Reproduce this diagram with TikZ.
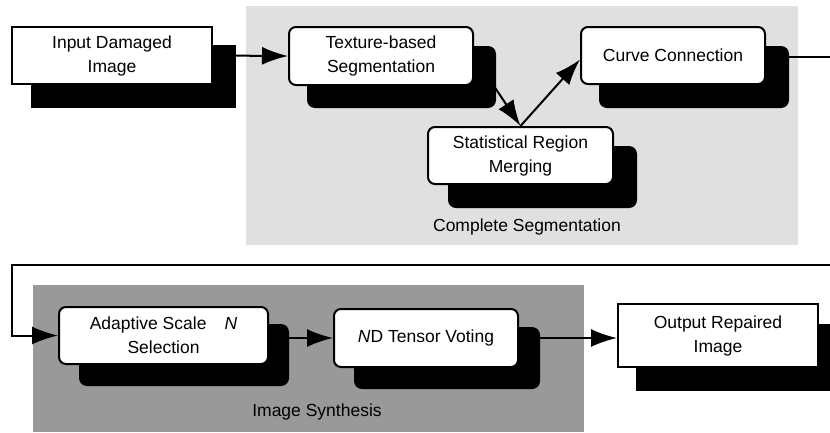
\documentclass[tikz,border=0pt]{standalone}
\usepackage{fontspec}
\setmainfont{Liberation Sans}
\usetikzlibrary{arrows.meta,calc}
\pgfdeclarelayer{bgregion}
\pgfdeclarelayer{bgconn}
\pgfdeclarelayer{bgshadow}
\pgfsetlayers{bgregion,bgconn,bgshadow,main}
\definecolor{lightregion}{gray}{0.88}
\definecolor{darkregion}{gray}{0.60}
\begin{document}
\begin{tikzpicture}[x=1pt,y=-1pt,
  every node/.style={font=\fontsize{17.5}{24}\selectfont},
  boxsharp/.style={draw=black,line width=2pt,fill=white,inner sep=0pt,align=center},
  boxround/.style={boxsharp,rounded corners=7pt},
  conn/.style={line width=2pt,-{Latex[length=26pt,width=18pt]}},
  plainline/.style={line width=2pt},
  shadowsharp/.style={fill=black},
  shadowround/.style={fill=black,rounded corners=8pt},
  regionlabel/.style={inner sep=0pt}
]
\useasboundingbox (0,0) rectangle (830,432);

% boxes
\node[boxsharp,minimum width=200pt,minimum height=57pt] (in) at (112,55.5) {Input Damaged\\Image\hspace*{0pt}};
\node[boxround,minimum width=184pt,minimum height=58pt] (tex) at (381,56) {Texture-based\\Segmentation};
\node[boxround,minimum width=184pt,minimum height=57pt] (cur) at (673,55.5) {Curve Connection};
\node[boxround,minimum width=185pt,minimum height=57pt] (stat) at (520.5,155.5) {Statistical Region\\Merging};
\node[boxround,minimum width=209pt,minimum height=57pt] (ada) at (163.5,335.5) {Adaptive Scale\hspace{18pt}\textit{N}\\Selection};
\node[boxround,minimum width=184pt,minimum height=58pt] (ten) at (426,338) {\textit{N}D Tensor Voting};
\node[boxsharp,minimum width=200pt,minimum height=63pt] (out) at (718,335.5) {Output Repaired\\Image};

% region labels
\node[regionlabel] (lab1) at (527,227) {Complete Segmentation};
\node[regionlabel] (lab2) at (317,412) {Image Synthesis};

% edge coordinates
\coordinate (e1) at (831,57);
\coordinate (e2) at (831,265);
\coordinate (lc) at (12,265);

\begin{pgfonlayer}{bgregion}
  \fill[lightregion] (246,6) rectangle (798,245);
  \fill[darkregion] (33,285) rectangle (584,432);
\end{pgfonlayer}

\begin{pgfonlayer}{bgshadow}
  \fill[shadowsharp] ($(in.north west)+(20,19)$) rectangle ($(in.south east)+(23,23)$);
  \fill[shadowround] ($(tex.north west)+(19,20)$) rectangle ($(tex.south east)+(22,22)$);
  \fill[shadowround] ($(cur.north west)+(19,20)$) rectangle ($(cur.south east)+(23,23)$);
  \fill[shadowround] ($(stat.north west)+(21,20)$) rectangle ($(stat.south east)+(23,23)$);
  \fill[shadowround] ($(ada.north west)+(21,18)$) rectangle ($(ada.south east)+(20,21)$);
  \fill[shadowround] ($(ten.north west)+(21,19)$) rectangle ($(ten.south east)+(21,21)$);
  \fill[shadowsharp] ($(out.north west)+(19,21)$) rectangle ($(out.south east)+(23,23)$);
\end{pgfonlayer}

\begin{pgfonlayer}{bgconn}
  \draw[conn] (in.east) -- (tex.west);
  \draw[conn] (tex.east) -- (stat.north);
  \draw[conn] (stat.north) -- ([yshift=-4pt]cur.west);
  \draw[plainline] (cur.east |- e1) -- (e1);
  \draw[conn] (e2) -- (lc) |- (ada.west);
  \draw[conn] (ada.east |- ten.west) -- (ten.west);
  \draw[conn] (ten.east) -- (ten.east -| out.west);
\end{pgfonlayer}
\end{tikzpicture}
\end{document}
